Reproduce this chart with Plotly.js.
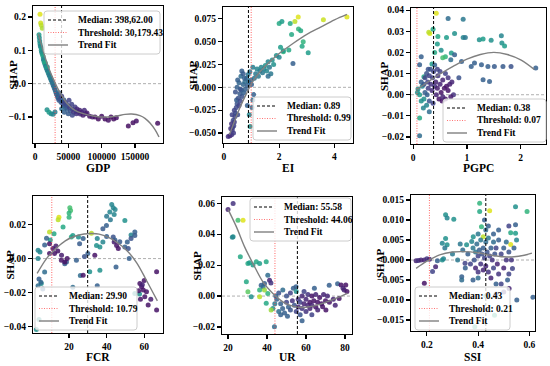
<!DOCTYPE html>
<html><head><meta charset="utf-8">
<script src="https://cdn.plot.ly/plotly-3.0.1.min.js"></script>
<style>html,body{margin:0;padding:0;background:#fff}#chart{width:550px;height:366px}</style>
</head><body><div id="chart"></div>
<script>
// ---------- DATA ----------
const features = ["GDP","EI","PGPC","FCR","UR","SSI"];
const medians = [39862, 0.89, 0.38, 29.90, 55.58, 0.43];
const thresholds = [30179.43, 0.99, 0.07, 10.79, 44.06, 0.21];
const medianLabels = ["Median: 398,62.00","Median: 0.89","Median: 0.38","Median: 29.90","Median: 55.58","Median: 0.43"];
const thresholdLabels = ["Threshold: 30,179.43","Threshold: 0.99","Threshold: 0.07","Threshold: 10.79","Threshold: 44.06","Threshold: 0.21"];
const trendLabel = "Trend Fit";

// GDP
const gdpX = [7500,8500,9500,11000,
 6000,6500,7000,7500,8000,9000,9500,10000,11000,12000,12500,13000,14000,15000,15500,16000,17000,18000,18500,19000,20000,21000,22000,23000,24000,25000,26000,27000,28000,29000,30000,31000,32000,33000,34000,35000,36000,
 18000,21000,24000,27000,30000,
 37000,38000,39000,40000,41000,42000,43000,44000,45000,46000,47000,48000,50000,51000,52000,53000,55000,56000,58000,60000,61000,62000,63000,65000,67000,68000,70000,72000,74000,76000,78000,44000,50000,56000,40000,
 82000,86000,90000,95000,100000,105000,110000,114000,118000,122000,140000,147000,152000,184000];
const gdpY = [0.208,0.182,0.175,0.166,
 0.147,0.138,0.128,0.12,0.113,0.108,0.1,0.094,0.088,0.082,0.075,0.07,0.064,0.058,0.062,0.052,0.047,0.042,0.05,0.037,0.032,0.027,0.022,0.017,0.012,0.008,0.003,-0.003,-0.008,-0.013,-0.018,-0.024,-0.03,-0.034,-0.04,-0.044,-0.05,
 -0.078,-0.086,-0.09,-0.092,-0.085,
 -0.028,-0.046,-0.056,-0.038,-0.052,-0.062,-0.048,-0.067,-0.056,-0.072,-0.062,-0.077,-0.066,-0.05,-0.072,-0.082,-0.062,-0.076,-0.086,-0.07,-0.081,-0.09,-0.076,-0.086,-0.08,-0.091,-0.086,-0.095,-0.08,-0.09,-0.088,-0.086,-0.09,-0.095,-0.075,
 -0.098,-0.1,-0.1,-0.106,-0.098,-0.106,-0.11,-0.1,-0.106,-0.102,-0.127,-0.117,-0.112,-0.119];
const gdpC = [0.95,0.93,0.9,0.88,
 0.55,0.5,0.48,0.52,0.45,0.5,0.55,0.47,0.52,0.58,0.5,0.45,0.55,0.5,0.6,0.42,0.5,0.45,0.55,0.4,0.48,0.42,0.4,0.45,0.38,0.42,0.35,0.4,0.33,0.38,0.3,0.36,0.3,0.33,0.28,0.32,0.26,
 0.5,0.55,0.5,0.45,0.42,
 0.3,0.25,0.3,0.2,0.28,0.22,0.3,0.25,0.2,0.28,0.22,0.3,0.25,0.2,0.18,0.25,0.2,0.22,0.15,0.18,0.2,0.15,0.12,0.15,0.1,0.12,0.1,0.08,0.12,0.1,0.08,0.3,0.28,0.22,0.35,
 0.05,0.08,0.05,0.04,0.05,0.04,0.05,0.04,0.04,0.05,0.04,0.04,0.05,0.04];
const gdpTrendX = [5000,10000,15000,20000,25000,30000,35000,40000,47500,60000,72500,85000,97500,110000,122500,135000,145000,157500,165000,172500,180000,186000];
const gdpTrendY = [0.15,0.115,0.08,0.05,0.025,0.003,-0.018,-0.035,-0.058,-0.08,-0.09,-0.096,-0.1,-0.1,-0.097,-0.092,-0.091,-0.096,-0.104,-0.118,-0.138,-0.16];

// EI
const eiX = [2.69,2.57,3.6,4.45,
 2.0,2.1,2.4,2.7,2.78,2.45,2.87,2.83,3.05,2.35,2.05,2.15,2.5,
 1.9,2.0,1.75,1.8,1.6,1.65,1.55,1.5,1.45,1.4,1.35,1.3,1.25,1.2,1.15,1.1,1.05,1.7,1.6,2.15,
 0.16,0.22,0.28,0.3,0.32,0.28,0.36,0.34,0.38,0.4,0.42,0.38,0.45,0.48,0.46,0.52,0.55,0.58,0.6,0.64,0.66,0.7,0.72,0.76,0.78,0.82,0.85,0.88,0.9,0.94,0.98,1.0,0.62,0.55,0.5,0.65,0.7,0.75,0.6,0.48,0.42,0.92,0.95,1.05,1.08,0.85,1.02,0.3,0.25,0.35,0.5];
const eiY = [0.077,0.072,0.074,0.077,
 0.070,0.072,0.070,0.064,0.062,0.058,0.050,0.045,0.038,0.041,0.044,0.039,0.026,
 0.035,0.033,0.030,0.025,0.028,0.022,0.018,0.024,0.020,0.016,0.022,0.018,0.012,0.020,0.015,0.010,0.022,0.015,0.012,0.040,
 -0.054,-0.053,-0.052,-0.047,-0.044,-0.040,-0.042,-0.036,-0.038,-0.032,-0.028,-0.025,-0.022,-0.018,-0.014,-0.012,-0.020,-0.007,-0.015,-0.003,-0.010,0.003,-0.006,0.006,-0.002,0.010,0.002,0.014,0.006,0.017,0.008,0.003,0.012,0.005,0.008,0.018,0.015,0.010,-0.002,0.0,-0.005,-0.030,-0.043,-0.014,-0.008,-0.020,-0.022,-0.030,-0.045,-0.050,-0.030];
const eiC = [0.95,0.9,0.92,0.95,
 0.6,0.55,0.6,0.65,0.6,0.6,0.65,0.6,0.55,0.6,0.55,0.65,0.3,
 0.5,0.45,0.5,0.5,0.45,0.4,0.45,0.5,0.45,0.4,0.45,0.4,0.4,0.45,0.4,0.38,0.42,0.4,0.35,0.55,
 0.15,0.12,0.15,0.18,0.2,0.15,0.2,0.22,0.18,0.2,0.25,0.2,0.22,0.25,0.3,0.25,0.2,0.28,0.22,0.3,0.25,0.32,0.3,0.35,0.3,0.35,0.3,0.38,0.35,0.4,0.35,0.3,0.35,0.32,0.3,0.3,0.28,0.3,0.25,0.3,0.25,0.45,0.5,0.35,0.3,0.3,0.35,0.2,0.15,0.18,0.22];
const eiTrendX = [0.2,0.4,0.6,0.8,1.0,1.2,1.4,1.7,2.0,2.5,3.0,3.5,4.0,4.45];
const eiTrendY = [-0.052,-0.036,-0.021,-0.008,0.004,0.013,0.020,0.029,0.037,0.048,0.058,0.066,0.074,0.080];

// PGPC
const pgpcX = [0.31,0.29,0.43,
 0.37,0.46,0.45,0.62,0.6,0.55,0.71,0.77,0.93,0.97,1.23,1.3,1.45,1.64,1.65,1.7,0.52,0.35,0.4,0.2,
 0.65,0.93,0.77,0.9,1.14,1.08,1.27,1.39,1.51,1.67,1.82,1.3,1.42,2.28,0.7,0.12,0.15,0.12,
 0.09,0.12,0.15,0.19,0.12,0.08,0.2,0.25,0.3,0.17,
 0.2,0.22,0.25,0.27,0.28,0.3,0.32,0.33,0.35,0.36,0.38,0.4,0.42,0.43,0.45,0.46,0.48,0.5,0.52,0.54,0.55,0.58,0.6,0.62,0.65,0.68,0.72,0.75,0.5,0.26,0.3,0.22,0.55,0.45,0.65,0.37,0.6,0.7,0.4,0.28,0.15,0.85];
const pgpcY = [0.029,0.0295,0.0385,
 0.031,0.0275,0.024,0.027,0.018,0.0175,0.0197,0.029,0.027,0.027,0.026,0.0263,0.0257,0.0279,0.0244,0.023,0.021,0.0145,0.02,0.0085,
 0.036,0.0357,0.0189,0.0157,0.015,0.0134,0.0142,0.0134,0.0134,0.0134,0.0134,0.0071,0.0063,0.0126,0.0165,0.0142,0.018,-0.0194,
 0.0027,0.0,-0.003,-0.0063,-0.011,0.001,-0.002,-0.005,-0.008,0.004,
 0.005,0.008,0.01,0.006,0.003,0.009,0.012,0.005,0.002,0.008,0.011,0.004,0.006,0.0,0.003,0.009,-0.002,0.005,0.001,-0.003,0.007,0.003,-0.002,0.004,0.002,0.005,0.006,0.0,0.011,0.0,-0.003,0.001,-0.001,0.012,0.008,-0.004,0.01,-0.001,0.014,0.012,0.006,0.008];
const pgpcC = [0.95,0.9,0.95,
 0.6,0.6,0.55,0.55,0.65,0.7,0.55,0.5,0.45,0.4,0.5,0.55,0.5,0.45,0.5,0.55,0.5,0.55,0.6,0.6,
 0.35,0.4,0.3,0.3,0.3,0.3,0.3,0.3,0.28,0.28,0.25,0.3,0.3,0.3,0.35,0.3,0.3,0.35,
 0.5,0.55,0.5,0.45,0.6,0.5,0.5,0.45,0.35,0.45,
 0.25,0.2,0.25,0.2,0.18,0.2,0.25,0.15,0.12,0.18,0.2,0.15,0.1,0.1,0.08,0.15,0.05,0.1,0.05,0.05,0.1,0.05,0.05,0.05,0.05,0.08,0.1,0.15,0.2,0.3,0.25,0.3,0.1,0.2,0.15,0.2,0.2,0.08,0.3,0.25,0.3,0.25];
const pgpcTrendX = [0.07,0.3,0.5,0.75,1.0,1.25,1.5,1.75,2.0,2.25];
const pgpcTrendY = [0.0025,0.0065,0.0098,0.0135,0.0168,0.019,0.020,0.019,0.0165,0.012];

// FCR
const fcrX = [14.6,14.2,9.6,31.9,
 20.4,20.8,20,20,16.8,21.2,22,25,12,10,
 42.7,43.5,44.5,41.7,40,42,44,49.7,34.6,36.4,36.4,31,55,57.5,3.5,4.5,3.5,5.2,2.6,4,53,35,38,
 39.9,38,40,43.5,44.4,47,51,53,55,55,49.7,51.5,27.5,25.6,30,28.2,23.9,18.6,17.7,8,7,26,22,4,5,6,3.5,7,45,52,35,
 9.6,11.4,12.3,9.6,14,15.9,17.7,13,33.7,45.3,46.2,44,57.7,58.6,59.5,57,61.2,60.3,58,66.6,66.6,62.1,63.5,27.5,16,19,60,59];
const fcrY = [0.0245,0.023,0.0157,0.015,
 0.030,0.0285,0.027,0.0245,0.0186,0.0127,0.0137,0.0127,0.0147,0.011,
 0.032,0.030,0.029,0.0275,0.025,0.023,0.026,0.0225,0.0078,0.0068,-0.0069,-0.0078,-0.0206,-0.021,0.0049,0.0039,0.0,-0.0147,-0.042,-0.036,0.014,0.0118,0.0098,
 0.0196,0.0176,0.013,0.0127,0.011,0.010,0.0098,0.0118,0.0157,0.0137,0.0069,0.006,0.0118,0.0088,0.003,0.0012,-0.001,-0.002,-0.003,0.012,0.008,-0.010,-0.017,-0.012,-0.014,-0.018,-0.016,-0.008,-0.005,0.0,-0.016,
 0.0088,0.0059,0.003,0.003,0.0045,-0.001,-0.002,0.0075,0.002,0.0078,0.0059,0.0098,-0.0147,-0.0167,-0.0186,-0.019,-0.0196,-0.0225,-0.024,-0.0078,-0.0304,-0.0275,-0.024,-0.0098,0.002,0.0,-0.013,-0.0155];
const fcrC = [0.95,0.9,0.9,0.9,
 0.7,0.7,0.65,0.65,0.6,0.6,0.55,0.5,0.6,0.55,
 0.45,0.45,0.45,0.45,0.4,0.4,0.45,0.5,0.5,0.5,0.5,0.5,0.5,0.5,0.45,0.45,0.45,0.5,0.5,0.5,0.45,0.45,0.45,
 0.3,0.28,0.3,0.25,0.3,0.28,0.3,0.25,0.3,0.28,0.3,0.25,0.3,0.28,0.3,0.25,0.3,0.28,0.3,0.32,0.3,0.35,0.35,0.3,0.32,0.3,0.35,0.35,0.3,0.3,0.3,
 0.05,0.05,0.05,0.05,0.05,0.05,0.05,0.08,0.05,0.05,0.05,0.08,0.05,0.05,0.05,0.05,0.05,0.05,0.05,0.05,0.05,0.05,0.08,0.05,0.08,0.05,0.05,0.1];
const fcrTrendX = [3,8,13,18,23,28,32,36,41,46,51,56,61,67];
const fcrTrendY = [-0.0088,0.0,0.006,0.0105,0.0132,0.0145,0.0148,0.0145,0.0125,0.0092,0.0045,-0.0025,-0.0125,-0.025];

// UR
const urX = [20,22.6,22.6,22.2,25.1,27.7,26.3,30.2,31,32.8,34.5,36.2,39.6,29.4,30.2,31.9,36.2,36.2,37,38,38.7,40.4,38.7,40.4,41.3,42,39.6,43,42.1,43.8,
 45,46,47,48.1,48,49,50,50,51,52,52,53,53.5,54,54.9,55,56,56,57,57,58,58,59,59,60,60,61,61,62,62,63,63,64,64.3,65,65,66,66,67,68,68.5,69,70,70.2,71,71.9,72,74,76.2,78,79,80.4,79.6,77,75,81,47,46,50.5,55,44,44.5,58,63];
const urY = [0.0559,0.0598,0.0383,0.038,0.049,0.049,0.0254,0.0211,0.0215,0.02,0.0222,0.0211,0.0222,0.0092,0.0028,-0.0004,-0.0004,0.0039,0.007,0.006,0.0039,0.0017,0.0082,0.0135,0.0103,0.0085,-0.0047,-0.008,-0.009,-0.0198,
 -0.002,0.002,-0.005,0.0039,-0.008,-0.011,0.0,-0.004,-0.007,-0.009,0.002,-0.003,0.005,-0.006,0.006,-0.01,-0.002,-0.007,-0.004,-0.012,0.0,-0.008,-0.005,0.003,-0.002,-0.01,-0.006,0.001,-0.004,-0.008,0.0,-0.006,-0.003,0.005,-0.007,0.001,-0.004,-0.009,-0.001,-0.005,-0.0069,0.001,-0.003,-0.009,0.0,0.007,-0.004,-0.002,0.008,0.0071,0.005,0.0071,0.0039,-0.0015,-0.006,0.003,-0.012,-0.01,-0.013,0.003,-0.005,0.0,-0.016,-0.012];
const urC = [0.1,0.15,0.5,0.45,0.7,0.95,0.6,0.6,0.55,0.55,0.6,0.55,0.6,0.6,0.75,0.5,0.9,0.65,0.3,0.35,0.85,0.65,0.3,0.35,0.1,0.15,0.6,0.5,0.85,0.35,
 0.3,0.25,0.3,0.35,0.3,0.3,0.25,0.2,0.3,0.25,0.2,0.15,0.3,0.25,0.3,0.2,0.15,0.1,0.2,0.25,0.1,0.15,0.1,0.2,0.1,0.15,0.1,0.15,0.05,0.1,0.05,0.1,0.05,0.3,0.05,0.1,0.05,0.1,0.05,0.05,0.05,0.1,0.05,0.05,0.1,0.3,0.05,0.1,0.3,0.05,0.1,0.05,0.1,0.05,0.1,0.05,0.3,0.35,0.3,0.5,0.4,0.3,0.3,0.2];
const urTrendX = [20,24.3,28.5,32.8,37.9,43,48.1,51.5,56.6,61.7,68.5,75.3,81.3];
const urTrendY = [0.056,0.0447,0.0318,0.021,0.0092,0.0017,-0.0037,-0.0058,-0.0073,-0.0069,-0.0047,-0.0015,0.0017];

// SSI
const ssiX = [0.158,0.167,0.177,0.19,0.2,0.21,0.19,0.222,0.234,0.241,0.26,0.265,0.273,0.279,0.305,0.273,0.26,0.279,0.27,0.336,0.336,0.349,0.355,0.375,0.381,0.39,0.406,0.406,0.413,0.42,0.425,0.445,0.527,0.546,0.591,0.527,0.546,0.55,0.546,0.534,0.515,0.521,0.551,0.614,0.387,0.464,
 0.36,0.37,0.38,0.385,0.39,0.395,0.4,0.4,0.405,0.41,0.41,0.415,0.42,0.42,0.425,0.43,0.43,0.435,0.44,0.44,0.445,0.45,0.45,0.455,0.46,0.46,0.465,0.47,0.47,0.475,0.48,0.48,0.49,0.49,0.5,0.5,0.51,0.51,0.52,0.52,0.53,0.54,0.35,0.34,0.32,0.3,0.44,0.43,0.46,0.48,0.52,0.4,0.47,0.43,0.4,0.38,0.5,0.33];
const ssiY = [-0.0002,-0.0001,0.0,0.0,0.0003,0.0002,-0.0058,-0.0029,-0.0017,-0.0002,0.0,0.0003,0.0113,0.0105,0.0102,0.0054,0.0042,0.0038,0.003,-0.0042,-0.005,-0.0008,0.0038,0.0046,0.0058,0.002,0.0142,0.0121,0.0083,0.0058,0.01,0.0123,0.0039,0.0133,0.0121,0.0068,0.0067,0.005,0.0088,-0.0021,-0.005,-0.0071,-0.01,-0.0093,-0.0167,-0.0138,
 0.0015,-0.001,0.003,0.0,-0.002,0.004,0.001,-0.003,0.0025,0.005,-0.001,0.0015,0.003,-0.0025,0.0005,0.0045,-0.0015,0.002,0.0055,-0.003,0.001,0.003,-0.0045,0.0,0.0045,-0.002,0.0015,-0.006,0.003,-0.001,0.005,-0.0035,0.0015,-0.006,0.003,-0.002,0.0045,0.0,-0.0035,0.002,0.0,0.003,-0.002,0.0025,0.0,0.0015,0.0085,0.0075,0.0065,0.0075,0.0085,0.0065,-0.0085,-0.009,-0.0045,-0.005,-0.008,0.004];
const ssiC = [0.1,0.15,0.1,0.1,0.15,0.1,0.05,0.2,0.1,0.3,0.5,0.45,0.5,0.45,0.5,0.5,0.45,0.5,0.4,0.3,0.35,0.2,0.5,0.45,0.5,0.4,0.65,0.6,0.65,0.9,0.3,0.95,0.95,0.5,0.65,0.6,0.55,0.45,0.3,0.2,0.3,0.1,0.3,0.3,0.6,0.6,
 0.3,0.2,0.4,0.25,0.1,0.35,0.2,0.15,0.3,0.4,0.15,0.25,0.3,0.1,0.2,0.35,0.1,0.25,0.4,0.15,0.2,0.3,0.1,0.15,0.35,0.2,0.25,0.3,0.2,0.1,0.3,0.15,0.2,0.2,0.3,0.1,0.35,0.15,0.2,0.25,0.15,0.3,0.3,0.35,0.4,0.4,0.3,0.35,0.3,0.3,0.2,0.4,0.3,0.5,0.35,0.3,0.15,0.4];
const ssiTrendX = [0.158,0.2,0.25,0.3,0.34,0.4,0.45,0.5,0.54,0.58,0.61];
const ssiTrendY = [-0.0021,-0.0003,0.0013,0.002,0.0021,0.0018,0.0012,0.0008,0.0008,0.0012,0.0017];

// axis ranges & ticks
const xRanges = [[-3000,192000],[-0.03,4.67],[-0.04,2.47],[0.8,70],[16.9,83.6],[0.138,0.622]];
const yRanges = [[-0.178,0.233],[-0.061,0.088],[-0.0233,0.041],[-0.044,0.037],[-0.0245,0.064],[-0.01775,0.01625]];
const xTicks = [[0,50000,100000,150000],[0,2,4],[0,1,2],[20,40,60],[20,40,60,80],[0.2,0.4,0.6]];
const yTicks = [[-0.1,0,0.1,0.2],[-0.05,-0.025,0,0.025,0.05,0.075],[-0.02,-0.01,0,0.01,0.02,0.03,0.04],[-0.04,-0.02,0,0.02],[-0.02,0,0.02,0.04,0.06],[-0.015,-0.01,-0.005,0,0.005,0.01,0.015]];

const points = [[gdpX,gdpY,gdpC],[eiX,eiY,eiC],[pgpcX,pgpcY,pgpcC],[fcrX,fcrY,fcrC],[urX,urY,urC],[ssiX,ssiY,ssiC]];
const trends = [[gdpTrendX,gdpTrendY],[eiTrendX,eiTrendY],[pgpcTrendX,pgpcTrendY],[fcrTrendX,fcrTrendY],[urTrendX,urTrendY],[ssiTrendX,ssiTrendY]];

// ---------- LAYOUT / STYLE ----------
const W = 550, H = 366;
const FONT = "Liberation Serif, 'Times New Roman', serif";
const xFmt = ['d','d','d','d','d','.1f'];
const yFmt = ['.1f','.3f','.2f','.2f','.2f','.3f'];
// pixel boxes [left, right, top, bottom]
const boxes = [[33,163,6,143],[223,353,7,143],[411,546,8,144],[33,163,196,333],[222,352,197,334],[411,535,195,331]];
const yTitleX = [12,193,384,9,196,380];
const xTitleY = [168,168,168,356.5,356.5,356.5];
// legend boxes [left px, top px, width px]
const legendBoxes = [[44,11,116],[253,97,98],[443,99,103],[35,287,102],[250,198,101],[415,287,95]];
const LEG_H = 43, ROWS = [9, 21.5, 34];

const MED_STYLE = {color: '#000', width: 1, dash: '3px,2px'};
const THR_STYLE = {color: 'rgba(255,70,70,0.75)', width: 1.1, dash: '1px,1.5px'};
const TRD_STYLE = {color: '#808080', width: 1.4};

const px2x = p => p / W, px2y = p => 1 - p / H;

const traces = [];
const layout = {
  width: W, height: H, margin: {l:0,r:0,t:0,b:0},
  paper_bgcolor: '#fff', plot_bgcolor: '#fff',
  font: {family: FONT, color: '#000'},
  showlegend: false, shapes: [], annotations: []
};

function roundRectPath(x0, y0, x1, y1, r) {
  const X = px2x, Y = px2y;
  return `M${X(x0+r)},${Y(y0)} L${X(x1-r)},${Y(y0)} Q${X(x1)},${Y(y0)} ${X(x1)},${Y(y0+r)} ` +
         `L${X(x1)},${Y(y1-r)} Q${X(x1)},${Y(y1)} ${X(x1-r)},${Y(y1)} L${X(x0+r)},${Y(y1)} ` +
         `Q${X(x0)},${Y(y1)} ${X(x0)},${Y(y1-r)} L${X(x0)},${Y(y0+r)} Q${X(x0)},${Y(y0)} ${X(x0+r)},${Y(y0)} Z`;
}

for (let i = 0; i < 6; i++) {
  const n = i + 1;
  const xa = n === 1 ? 'x' : 'x' + n;
  const ya = n === 1 ? 'y' : 'y' + n;
  const [L, R, T, B] = boxes[i];
  const axCommon = {
    showline: true, mirror: true, linecolor: '#000', linewidth: 1.2,
    ticks: 'outside', ticklen: 4, tickwidth: 1.2, tickcolor: '#000',
    showgrid: false, zeroline: false,
    tickfont: {family: FONT, size: 9.5, color: '#000', weight: 'bold'}
  };
  layout['xaxis' + (n === 1 ? '' : n)] = Object.assign({}, axCommon, {
    domain: [L / W, R / W], anchor: ya, range: xRanges[i],
    tickmode: 'array', tickvals: xTicks[i], tickformat: xFmt[i]
  });
  layout['yaxis' + (n === 1 ? '' : n)] = Object.assign({}, axCommon, {
    domain: [1 - B / H, 1 - T / H], anchor: xa, range: yRanges[i],
    tickmode: 'array', tickvals: yTicks[i], tickformat: yFmt[i]
  });
  // zero line
  layout.shapes.push({type: 'line', xref: xa + ' domain', yref: ya, x0: 0, x1: 1, y0: 0, y1: 0,
    line: {color: '#9a9a9a', width: 0.8, dash: '3px,2px'}, layer: 'below'});
  // axis titles
  layout.annotations.push({text: features[i], xref: 'paper', yref: 'paper', x: ((L + R) / 2) / W, y: px2y(xTitleY[i]),
    xanchor: 'center', yanchor: 'middle', showarrow: false, font: {family: FONT, size: 11.5, color: '#000', weight: 'bold'}});
  layout.annotations.push({text: 'SHAP', xref: 'paper', yref: 'paper', x: px2x(yTitleX[i]), y: px2y((T + B) / 2),
    xanchor: 'center', yanchor: 'middle', textangle: -90, showarrow: false, font: {family: FONT, size: 11, color: '#000', weight: 'bold'}});

  // data
  const [ptx, pty, ptc] = points[i];
  traces.push({type: 'scatter', mode: 'markers', x: ptx, y: pty, xaxis: xa, yaxis: ya, hoverinfo: 'skip',
    marker: {size: 5, color: ptc, colorscale: 'Viridis', cmin: 0, cmax: 1, opacity: 0.85, line: {width: 0}}});
  traces.push({type: 'scatter', mode: 'lines', x: [medians[i], medians[i]], y: yRanges[i], xaxis: xa, yaxis: ya, line: MED_STYLE});
  traces.push({type: 'scatter', mode: 'lines', x: [thresholds[i], thresholds[i]], y: yRanges[i], xaxis: xa, yaxis: ya, line: THR_STYLE});
  traces.push({type: 'scatter', mode: 'lines', x: trends[i][0], y: trends[i][1], xaxis: xa, yaxis: ya,
    line: Object.assign({shape: 'spline'}, TRD_STYLE)});

  // legend (drawn)
  const [lx, ly, lw] = legendBoxes[i];
  layout.shapes.push({type: 'path', xref: 'paper', yref: 'paper', path: roundRectPath(lx, ly, lx + lw, ly + LEG_H, 3),
    fillcolor: 'rgba(255,255,255,0.8)', line: {color: '#cccccc', width: 1}, layer: 'above'});
  const labels = [medianLabels[i], thresholdLabels[i], trendLabel];
  const styles = [MED_STYLE, THR_STYLE, TRD_STYLE];
  for (let k = 0; k < 3; k++) {
    const ry = ly + ROWS[k];
    layout.shapes.push({type: 'line', xref: 'paper', yref: 'paper', x0: px2x(lx + 4), x1: px2x(lx + 24), y0: px2y(ry), y1: px2y(ry),
      line: styles[k], layer: 'above'});
    layout.annotations.push({text: labels[k], xref: 'paper', yref: 'paper', x: px2x(lx + 32), y: px2y(ry),
      xanchor: 'left', yanchor: 'middle', showarrow: false, font: {family: FONT, size: 9.5, color: '#000', weight: 'bold'}});
  }
}

Plotly.newPlot('chart', traces, layout, {staticPlot: true, displayModeBar: false});
</script>
</body></html>
